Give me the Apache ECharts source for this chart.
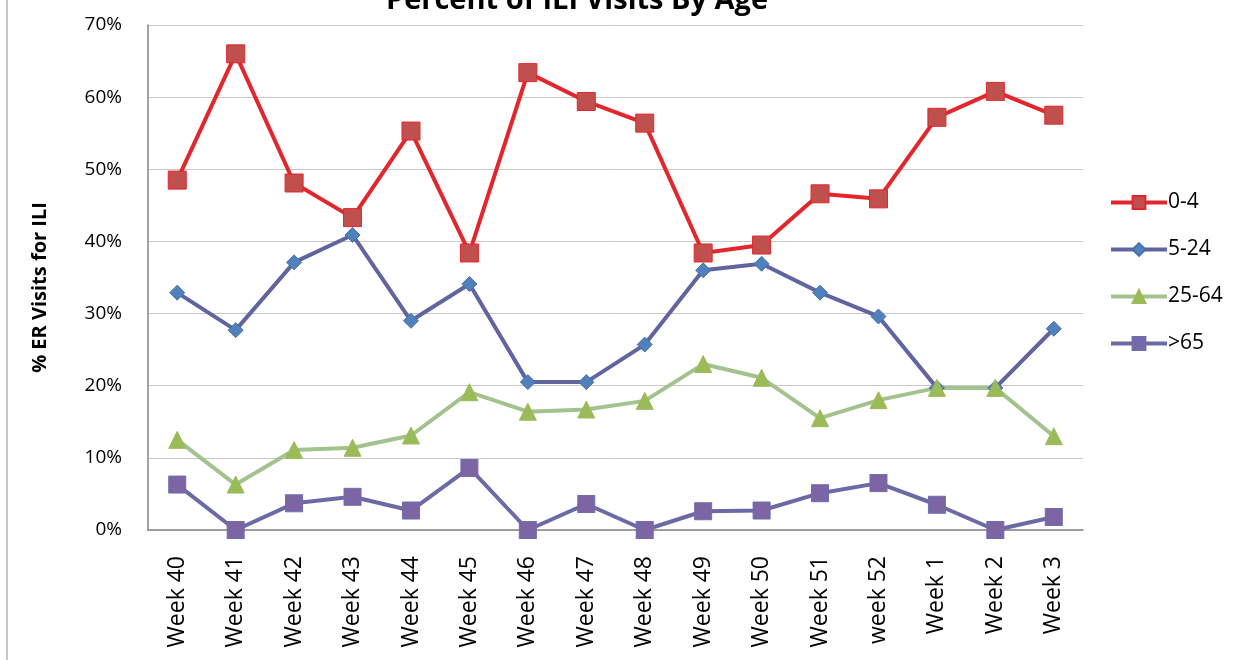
<!DOCTYPE html>
<html>
<head>
<meta charset="utf-8">
<script src="https://cdn.jsdelivr.net/npm/echarts@6/dist/echarts.min.js"></script>
<style>
  html, body { margin: 0; padding: 0; background: #fff; }
  #main { width: 1244px; height: 660px; }
</style>
</head>
<body>
<div id="main"></div>
<script>
    // weeks on the x axis
    var weeks = ["Week 40", "Week 41", "Week 42", "Week 43", "Week 44", "Week 45", "Week 46", "Week 47",
                 "Week 48", "Week 49", "Week 50", "Week 51", "week 52", "Week 1", "Week 2", "Week 3"];
    // percent of ER visits for ILI, by age group
    var age0to4   = [48.5, 66.0, 48.1, 43.3, 55.3, 38.4, 63.4, 59.4, 56.4, 38.4, 39.5, 46.6, 45.9, 57.2, 60.8, 57.5];
    var age5to24  = [32.9, 27.7, 37.1, 40.9, 29.0, 34.1, 20.5, 20.5, 25.7, 36.0, 36.9, 32.9, 29.6, 19.7, 19.7, 27.9];
    var age25to64 = [12.5, 6.3, 11.1, 11.4, 13.1, 19.1, 16.4, 16.7, 17.9, 23.0, 21.1, 15.5, 18.0, 19.7, 19.7, 13.0];
    var age65up   = [6.3, 0, 3.7, 4.6, 2.7, 8.6, 0, 3.6, 0, 2.6, 2.7, 5.1, 6.5, 3.5, 0, 1.8];
    var yTicks = { min: 0, max: 70, interval: 10 };

    var font = "'Open Sans', 'Noto Sans', sans-serif";
    var dom = document.getElementById("main");
    var myChart = echarts.init(dom);

    function makeSeries(name, data, lineColor, symbol, size, fill, border){
        return {
            name: name,
            type: 'line',
            data: data,
            symbol: symbol,
            symbolSize: size,
            showAllSymbol: true,
            lineStyle: { color: lineColor, width: 4 },
            itemStyle: { color: fill, borderColor: border, borderWidth: 1 },
            emphasis: { disabled: true },
            z: 2
        };
    }

    var option = {
        animation: false,
        title: {
            text: 'Percent of ILI Visits By Age',
            left: 572,
            top: -19,
            textAlign: 'center',
            textStyle: { fontFamily: font, fontSize: 29, fontWeight: 'bold', color: '#000' }
        },
        legend: {
            orient: 'vertical',
            left: 1104,
            top: 187,
            itemWidth: 56,
            itemHeight: 16,
            itemGap: 26,
            lineStyle: { width: 4 },
            textStyle: { fontFamily: font, fontSize: 21, color: '#000', padding: [0, 0, 0, -4] },
            data: ['0-4', '5-24', '25-64', '>65']
        },
        grid: { left: 148, right: 161, top: 25, bottom: 130, containLabel: false },
        xAxis: {
            type: 'category',
            data: weeks,
            boundaryGap: true,
            axisLine: { lineStyle: { color: '#868686', width: 1.5 } },
            axisTick: { show: false },
            axisLabel: { rotate: 90, margin: 26, fontFamily: font, fontSize: 23, color: '#000' }
        },
        yAxis: {
            type: 'value',
            min: yTicks.min,
            max: yTicks.max,
            interval: yTicks.interval,
            name: '% ER Visits for ILI',
            nameLocation: 'middle',
            nameGap: 98,
            nameRotate: 90,
            nameTextStyle: { fontFamily: font, fontSize: 20, fontWeight: 'bold', color: '#000', padding: [0, 20, 0, 0] },
            axisLine: { show: true, lineStyle: { color: '#868686', width: 1.5 } },
            axisTick: { show: false },
            splitLine: { lineStyle: { color: '#c8c8c8', width: 1 } },
            axisLabel: { formatter: '{value}%', margin: 26, fontFamily: font, fontSize: 19, color: '#000' }
        },
        graphic: [{
            type: 'line',
            shape: { x1: 7, y1: 0, x2: 7, y2: 660 },
            style: { stroke: '#c8c8c8', lineWidth: 2 }
        }],
        series: [
            makeSeries('0-4', age0to4, '#e3262c', 'rect', 18, '#c0504d', '#e3262c'),
            makeSeries('5-24', age5to24, '#6065a0', 'diamond', 15, '#4f81bd', '#4a6fa8'),
            makeSeries('25-64', age25to64, '#a3c28e', 'triangle', 17, '#9bbb59', '#9bbb59'),
            makeSeries('>65', age65up, '#6b6aa5', 'path://M0,0H10V10H0Z M0,0L10,10 M10,0L0,10', 17, '#8064a2', '#6a6fb0')
        ]
    };
    myChart.setOption(option);
</script>
</body>
</html>
